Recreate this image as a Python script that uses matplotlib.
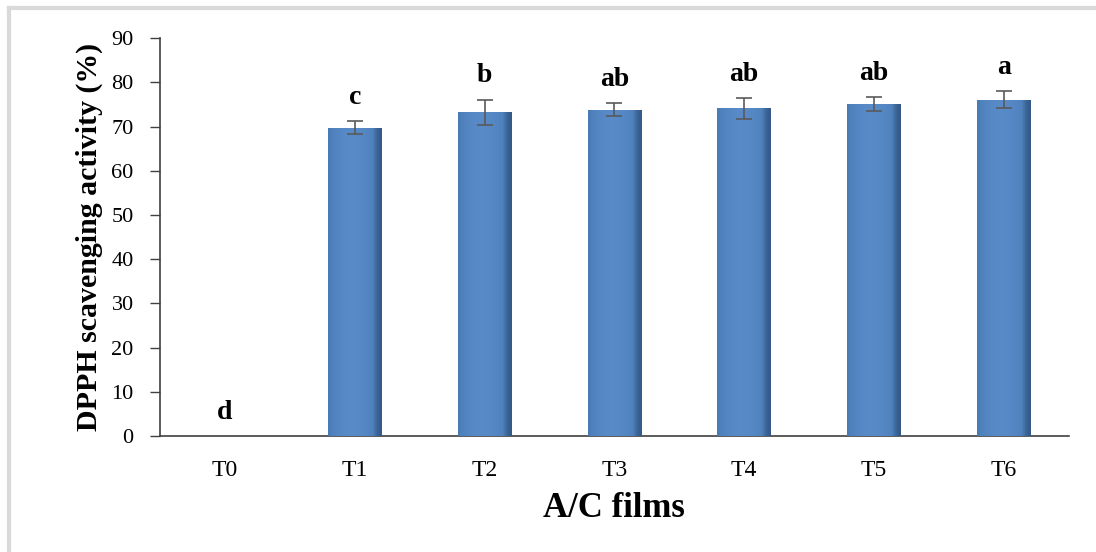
import matplotlib as mpl
mpl.use('Agg')
import matplotlib.pyplot as plt
from matplotlib.lines import Line2D
import numpy as np

categories = ['T0', 'T1', 'T2', 'T3', 'T4', 'T5', 'T6']
dpph = [0.0, 69.7, 73.2, 73.8, 74.1, 75.0, 76.1]
sd = [0.0, 1.5, 2.9, 1.5, 2.3, 1.6, 2.0]
letters = ['d', 'c', 'b', 'ab', 'ab', 'ab', 'a']

plt.rcParams['font.family'] = ['Liberation Serif', 'DejaVu Serif']

fig = plt.figure(figsize=(10.96, 5.52), dpi=100)
ax = fig.add_axes([0.146, 0.210, 0.829, 0.721])

x = np.arange(len(categories))
bars = ax.bar(x, dpph, width=0.41, color='#4f81bd', edgecolor='none', zorder=2)

# horizontal shading on each bar (light centre, dark edges)
grad = np.array([[0.45, 0.7, 0.85, 0.9, 0.85, 0.75, 0.55, 0.25]])
cmap = mpl.colors.LinearSegmentedColormap.from_list('bar', ['#17304f', '#4f81bd', '#5b8dcb'])
for b in bars:
    if b.get_height() <= 0:
        continue
    im = ax.imshow(grad, cmap=cmap, vmin=0, vmax=1, aspect='auto', interpolation='bicubic',
                   extent=[b.get_x(), b.get_x() + b.get_width(), 0, b.get_height()], zorder=3)
    im.set_clip_path(b)

ax.errorbar(x[1:], dpph[1:], yerr=sd[1:], fmt='none', ecolor='#5a5a5a', elinewidth=1.2,
            capsize=6, capthick=1.2, zorder=4)

for xi, v, e, lab in zip(x, dpph, sd, letters):
    ax.annotate(lab, (xi, v + e), xytext=(0, 8), textcoords='offset points',
                ha='center', va='bottom', fontsize=20, fontweight='bold')

ax.set_xlim(-0.5, len(categories) - 0.5)
ax.set_ylim(0, 90)
ax.set_yticks(range(0, 91, 10))
ax.set_xticks(x)
ax.set_xticklabels(categories)
ax.tick_params(axis='y', labelsize=16, length=7, width=1, color='#404040', pad=12)
ax.tick_params(axis='x', labelsize=17, length=0, pad=17)
for s in ['top', 'right']:
    ax.spines[s].set_visible(False)
for s in ['left', 'bottom']:
    ax.spines[s].set_color('#404040')
    ax.spines[s].set_linewidth(1.2)

ax.set_ylabel('DPPH scavenging activity (%)', fontsize=21.5, fontweight='bold', labelpad=6)
ax.set_xlabel('A/C films', fontsize=25, fontweight='bold', labelpad=8)

# light grey frame on top and left of the figure
fig.add_artist(Line2D([0.008, 1.0], [0.985, 0.985], color='#d9d9d9', lw=3, transform=fig.transFigure))
fig.add_artist(Line2D([0.008, 0.008], [0.0, 0.985], color='#d9d9d9', lw=3, transform=fig.transFigure))

fig.savefig('out.png', dpi=100)
